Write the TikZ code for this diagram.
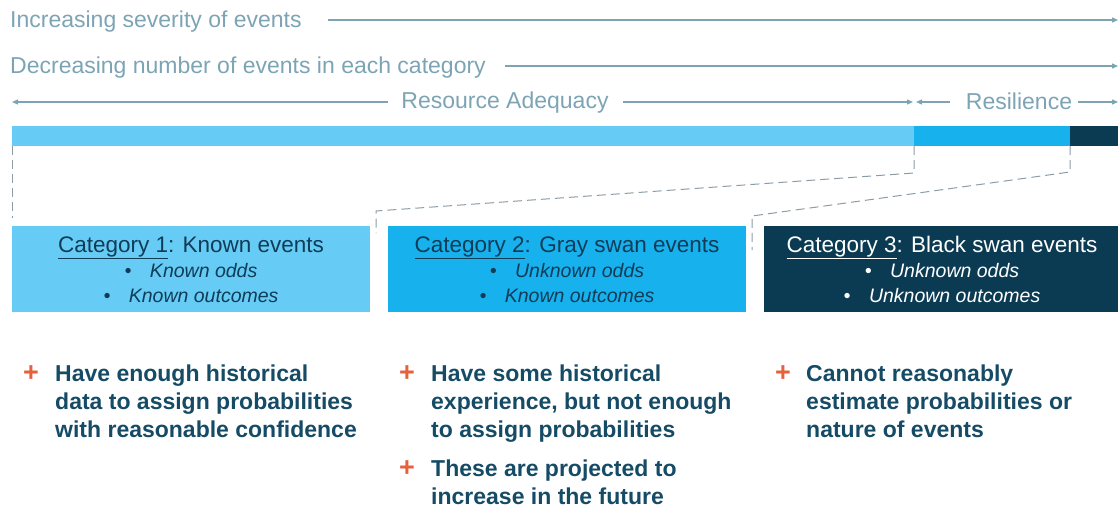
\documentclass[tikz,border=0pt]{standalone}
\usepackage{fontspec}
\setmainfont{Liberation Sans}
\usetikzlibrary{positioning,arrows.meta}

\definecolor{scalecol}{HTML}{7CA4B4}
\definecolor{lightcat}{HTML}{66CCF5}
\definecolor{midcat}{HTML}{17B1EE}
\definecolor{darkcat}{HTML}{0B3B53}
\definecolor{cattext}{HTML}{0F3C57}
\definecolor{notetext}{HTML}{164B66}
\definecolor{plusred}{HTML}{E6603B}
\definecolor{dashcol}{HTML}{8C9CA6}

\tikzset{
  scaletext/.style={text=scalecol,font=\fontsize{23}{28}\selectfont,inner sep=0pt},
  scaleline/.style={draw=scalecol,line width=1.3pt,-{Triangle[length=6pt,width=5pt]}},
  catbox/.style={rectangle,minimum width=358,minimum height=86,inner sep=0pt},
  cattitle/.style={text=cattext,font=\fontsize{22.5}{26}\selectfont,inner sep=0pt,anchor=base},
  catitem/.style={text=cattext,font=\fontsize{19.5}{24}\selectfont\itshape,inner sep=0pt,anchor=base},
  plusmark/.style={text=plusred,font=\fontsize{27}{28}\selectfont\bfseries,inner sep=0pt,anchor=base west},
  % multi-line notes are placed by the baseline of their last line
  note/.style={text=notetext,font=\fontsize{23}{28}\selectfont\bfseries,inner sep=0pt,align=left,anchor=base west},
  guide/.style={draw=dashcol,line width=1pt,dash pattern=on 9pt off 5pt}
}

\newcommand{\catpt}[1]{\textbullet\hspace{0.95em}#1}

\begin{document}
\begin{tikzpicture}[x=1pt,y=-1pt]
\useasboundingbox (0,0) rectangle (1118,508);

% captions above the bar
\node[scaletext,anchor=base west] (sev) at (10,28) {Increasing severity of events};
\node[scaletext,anchor=base west] (num) at (10,74) {Decreasing number of events in each category};
\node[scaletext,anchor=base] (ra) at (505,109) {Resource Adequacy};
\node[scaletext,anchor=base] (res) at (1019,110) {Resilience};

\coordinate (sevstart) at (328,20);
\coordinate (sevend) at (1118,20);
\coordinate (numstart) at (505,66);
\coordinate (numend) at (1118,66);
\coordinate (raleft) at (12,102);
\coordinate (rastartl) at (388,102);
\coordinate (rastartr) at (623,102);
\coordinate (splitl) at (913,102);
\coordinate (splitr) at (916,102);
\coordinate (resstartl) at (950,102);
\coordinate (resstartr) at (1078,102);
\coordinate (resend) at (1118,102);

\draw[scaleline] (sevstart) -- (sevend);
\draw[scaleline] (numstart) -- (numend);
\draw[scaleline] (rastartl) -- (raleft);
\draw[scaleline] (rastartr) -- (splitl);
\draw[scaleline] (resstartl) -- (splitr);
\draw[scaleline] (resstartr) -- (resend);

% the bar
\fill[lightcat] (12,126) rectangle (914,146);
\fill[midcat] (914,126) rectangle (1070,146);
\fill[darkcat] (1070,126) rectangle (1118,146);

% category boxes
\node[catbox,fill=lightcat] (cat1) at (191,269) {};
\node[catbox,fill=midcat] (cat2) at (567,269) {};
\node[catbox,fill=darkcat,minimum width=354] (cat3) at (941,269) {};

\node[cattitle] (cat1t) at (191,252) {\underline{Category 1}: Known events};
\node[catitem] (cat1a) at (191,277) {\catpt{Known odds}};
\node[catitem] (cat1b) at (191,302) {\catpt{Known outcomes}};

\node[cattitle] (cat2t) at (567,252) {\underline{Category 2}: Gray swan events};
\node[catitem] (cat2a) at (567,277) {\catpt{Unknown odds}};
\node[catitem] (cat2b) at (567,302) {\catpt{Known outcomes}};

\node[cattitle,text=white] (cat3t) at (942,252) {\underline{Category 3}: Black swan events};
\node[catitem,text=white] (cat3a) at (942,277) {\catpt{Unknown odds}};
\node[catitem,text=white] (cat3b) at (942,302) {\catpt{Unknown outcomes}};

% dashed guides from the bar down to the boxes
\coordinate (g1a) at (12,146);
\coordinate (g1b) at (12,218);
\coordinate (g2a) at (914,146);
\coordinate (g2b) at (914,173);
\coordinate (g2c) at (376,211);
\coordinate (g2d) at (376,233);
\coordinate (g3a) at (1070,146);
\coordinate (g3b) at (1070,172);
\coordinate (g3c) at (752,216);
\coordinate (g3d) at (752,250);

\draw[guide] (g1a) -- (g1b);
\draw[guide] (g2a) -- (g2b) -- (g2c) -- (g2d);
\draw[guide] (g3a) -- (g3b) -- (g3c) -- (g3d);

% notes under each category
\node[plusmark] (p1) at (23,381) {+};
\node[note] (n1) at (55,437) {Have enough historical\\data to assign probabilities\\with reasonable confidence};

\node[plusmark] (p2) at (399,381) {+};
\node[note] (n2) at (431,437) {Have some historical\\experience, but not enough\\to assign probabilities};
\node[plusmark] (p3) at (399,476) {+};
\node[note] (n3) at (431,504) {These are projected to\\increase in the future};

\node[plusmark] (p4) at (775,381) {+};
\node[note] (n4) at (806,437) {Cannot reasonably\\estimate probabilities or\\nature of events};
\end{tikzpicture}
\end{document}
